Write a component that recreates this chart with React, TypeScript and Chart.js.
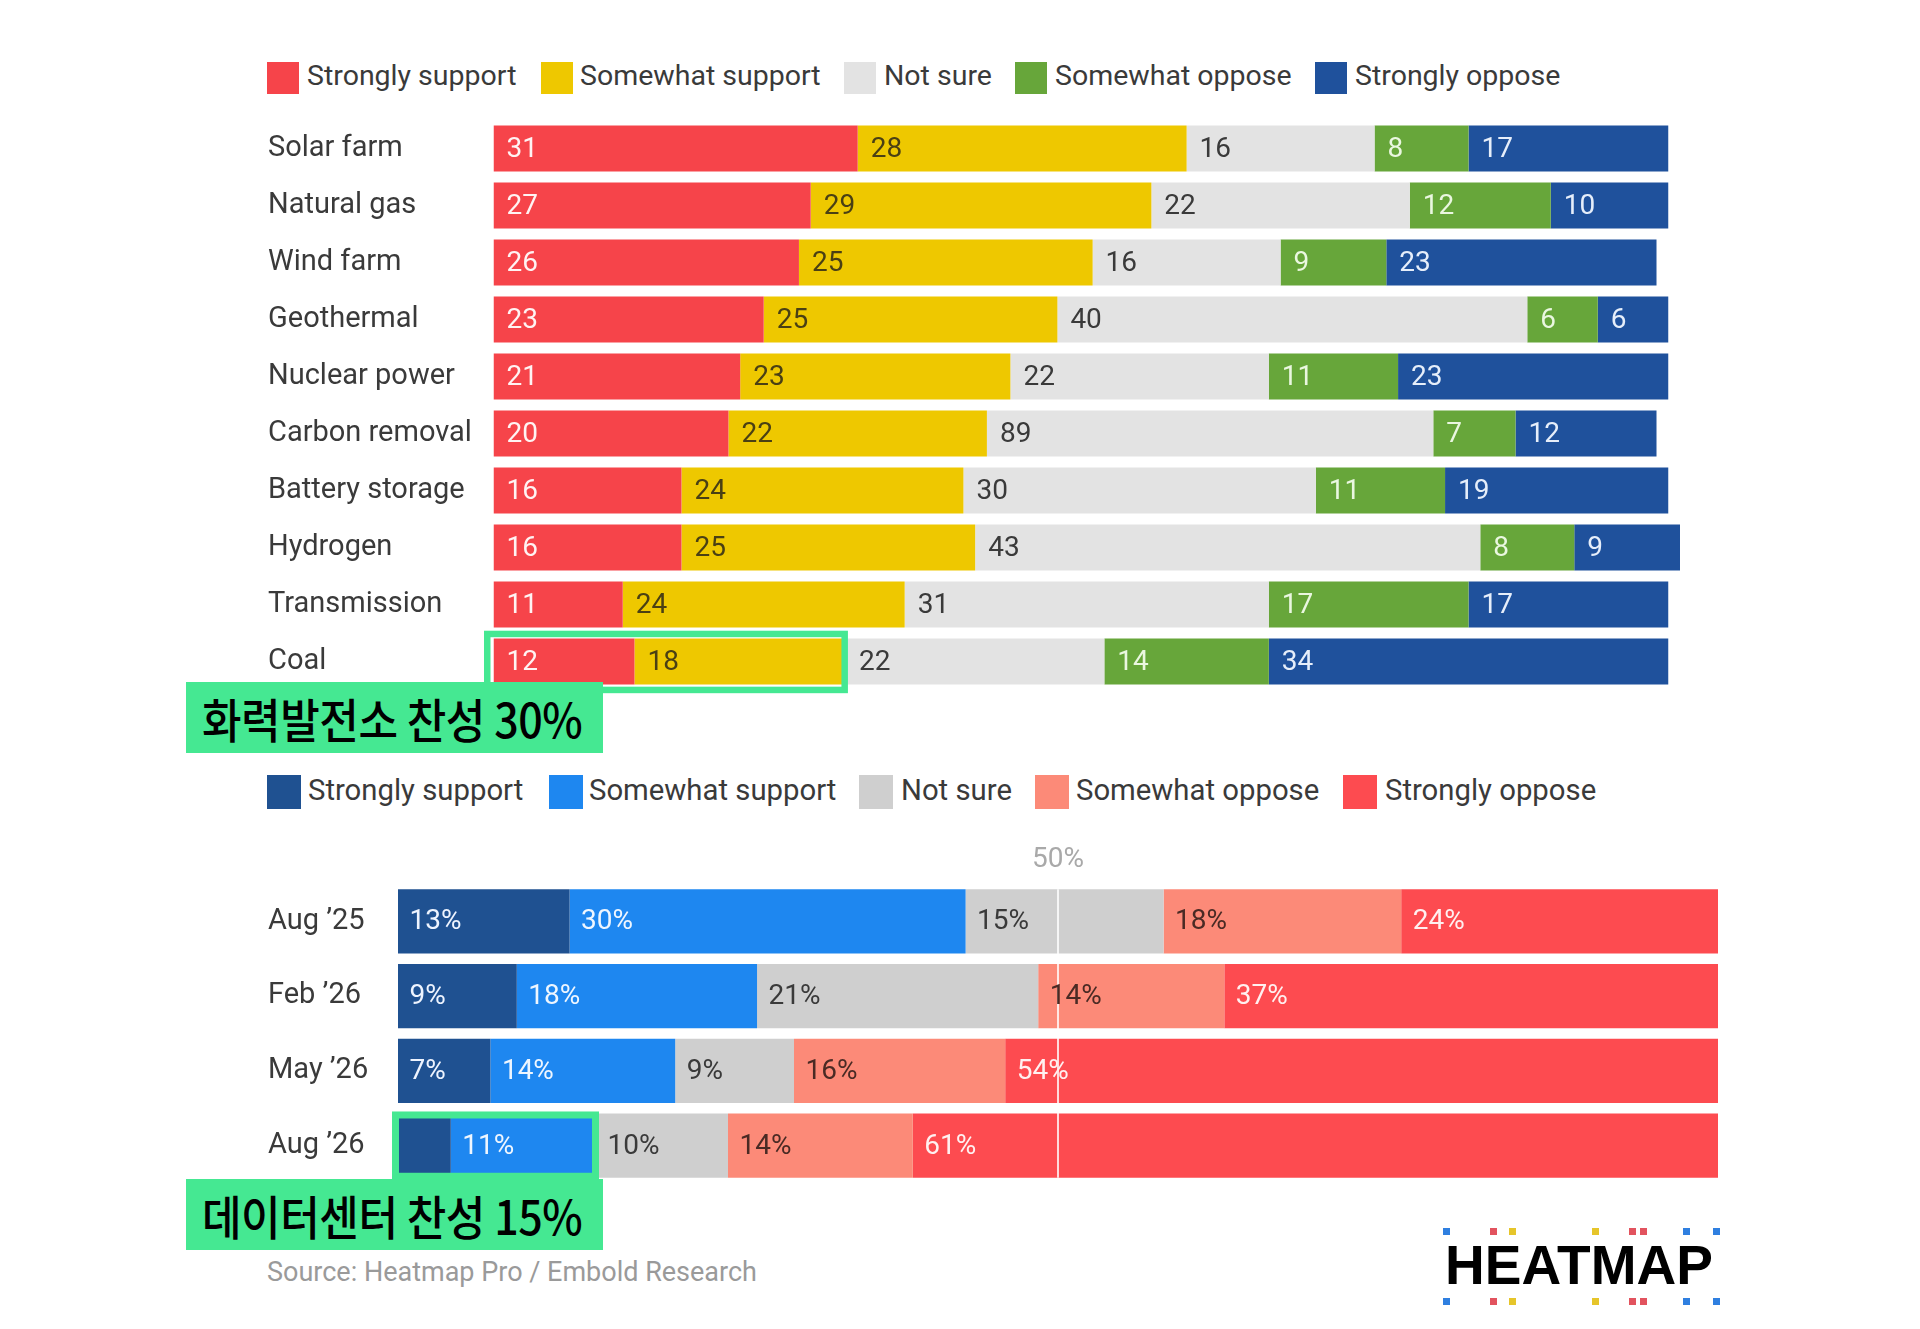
import React, { useEffect, useRef } from "react";
import { Chart, registerables } from "chart.js";

Chart.register(...registerables);

const FONT = "Roboto, 'Noto Sans', 'DejaVu Sans', sans-serif";
const KFONT = "'Noto Sans CJK KR', 'Noto Sans', sans-serif";

// ---------- Chart 1: energy projects ----------
const energyCategories = [
  "Solar farm",
  "Natural gas",
  "Wind farm",
  "Geothermal",
  "Nuclear power",
  "Carbon removal",
  "Battery storage",
  "Hydrogen",
  "Transmission",
  "Coal",
];
const energyStronglySupport = [31, 27, 26, 23, 21, 20, 16, 16, 11, 12];
const energySomewhatSupport = [28, 29, 25, 25, 23, 22, 24, 25, 24, 18];
const energyNotSure = [16, 22, 16, 40, 22, 38, 30, 43, 31, 22];
const energySomewhatOppose = [8, 12, 9, 6, 11, 7, 11, 8, 17, 14];
const energyStronglyOppose = [17, 10, 23, 6, 23, 12, 19, 9, 17, 34];
const energySeriesNames = [
  "Strongly support",
  "Somewhat support",
  "Not sure",
  "Somewhat oppose",
  "Strongly oppose",
];
// text printed on the reference that differs from the drawn value
const energyPrintedOverrides: Record<string, string> = {
  "Not sure|Carbon removal": "89",
};
const energyColors = ["#f6444a", "#eec800", "#e3e3e3", "#67a63a", "#1f519c"];
const energyLabelColors = ["#fff3f3", "#4a4014", "#3a3a3a", "#eaf7e0", "#e6eefa"];

// ---------- Chart 2: data centers ----------
const dcCategories = ["Aug \u201925", "Feb \u201926", "May \u201926", "Aug \u201926"];
const dcStronglySupport = [13, 9, 7, 4];
const dcSomewhatSupport = [30, 18.2, 14, 11];
const dcNotSure = [15, 21.3, 9, 10];
const dcSomewhatOppose = [18, 14.1, 16, 14];
const dcStronglyOppose = [24, 37.4, 54, 61];
const dcSeriesNames = [
  "Strongly support",
  "Somewhat support",
  "Not sure",
  "Somewhat oppose",
  "Strongly oppose",
];
const dcPrintedOverrides: Record<string, string> = {
  "Strongly support|Aug \u201926": "",
};
const dcColors = ["#1f5191", "#1e87f0", "#cfcfcf", "#fc8a78", "#fd4b50"];
const dcLabelColors = ["#eef4ff", "#eef6ff", "#3a3a3a", "#4a2a24", "#fff0f0"];
const dcMidline = 50;

const energyHighlight = { category: "Coal", from: 0, to: 30, text: "화력발전소 찬성 30%" };
const dcHighlight = { category: "Aug \u201926", from: 0, to: 15, text: "데이터센터 찬성 15%" };

const HIGHLIGHT_GREEN = "#45e892";

function makeLabelPlugin(
  id: string,
  colors: string[],
  overrides: Record<string, string>,
  fmt: (v: number) => string,
  fontSize: number,
  offset: number
) {
  return {
    id,
    afterDatasetsDraw(chart: any) {
      const ctx = chart.ctx;
      chart.data.datasets.forEach((ds: any, di: number) => {
        const meta = chart.getDatasetMeta(di);
        meta.data.forEach((bar: any, i: number) => {
          const key = ds.label + "|" + chart.data.labels[i];
          const text = key in overrides ? overrides[key] : fmt(ds.data[i]);
          if (!text) return;
          const p = bar.getProps(["x", "y", "base"], true);
          const left = Math.min(p.x, p.base);
          ctx.save();
          ctx.font = `400 ${fontSize}px ${FONT}`;
          ctx.fillStyle = colors[di];
          ctx.textAlign = "left";
          ctx.textBaseline = "middle";
          ctx.fillText(text, left + offset, p.y + 1);
          ctx.restore();
        });
      });
    },
  };
}

function makeHighlightPlugin(
  id: string,
  cfg: { category: string; from: number; to: number },
  pad: { l: number; r: number; t: number; b: number },
  lineWidth: number
) {
  return {
    id,
    afterDatasetsDraw(chart: any) {
      const idx = chart.data.labels.indexOf(cfg.category);
      if (idx < 0) return;
      const bar = chart.getDatasetMeta(0).data[idx];
      const p = bar.getProps(["y", "height"], true);
      const xs = chart.scales.x;
      const x0 = xs.getPixelForValue(cfg.from) - pad.l;
      const x1 = xs.getPixelForValue(cfg.to) + pad.r;
      const y0 = p.y - p.height / 2 - pad.t;
      const y1 = p.y + p.height / 2 + pad.b;
      const ctx = chart.ctx;
      ctx.save();
      ctx.strokeStyle = HIGHLIGHT_GREEN;
      ctx.lineWidth = lineWidth;
      ctx.strokeRect(
        x0 + lineWidth / 2,
        y0 + lineWidth / 2,
        x1 - x0 - lineWidth,
        y1 - y0 - lineWidth
      );
      ctx.restore();
    },
  };
}

const midlinePlugin = {
  id: "midline",
  afterDatasetsDraw(chart: any) {
    const ctx = chart.ctx;
    const xs = chart.scales.x;
    const x = xs.getPixelForValue(dcMidline);
    const first = chart.getDatasetMeta(0).data[0].getProps(["y", "height"], true);
    const n = chart.data.labels.length;
    const last = chart.getDatasetMeta(0).data[n - 1].getProps(["y", "height"], true);
    ctx.save();
    ctx.strokeStyle = "rgba(255,255,255,0.8)";
    ctx.lineWidth = 2;
    ctx.beginPath();
    ctx.moveTo(x, first.y - first.height / 2);
    ctx.lineTo(x, last.y + last.height / 2);
    ctx.stroke();
    ctx.font = `400 28px ${FONT}`;
    ctx.fillStyle = "#a9a9a9";
    ctx.textAlign = "center";
    ctx.textBaseline = "middle";
    ctx.fillText(`${dcMidline}%`, x, chart.chartArea.top - 24);
    ctx.restore();
  },
};

function yAxis(width: number) {
  return {
    stacked: true,
    grid: { display: false },
    border: { display: false },
    ticks: {
      crossAlign: "far",
      padding: 0,
      autoSkip: false,
      color: "#3a3a3a",
      font: { family: FONT, size: 29 },
    },
    afterFit: (s: any) => {
      s.width = width;
      s.paddingTop = 0;
      s.paddingBottom = 0;
    },
  };
}

function EnergyChart() {
  const ref = useRef<HTMLCanvasElement | null>(null);
  useEffect(() => {
    if (!ref.current) return;
    const series = [
      energyStronglySupport,
      energySomewhatSupport,
      energyNotSure,
      energySomewhatOppose,
      energyStronglyOppose,
    ];
    const chart = new Chart(ref.current, {
      type: "bar",
      data: {
        labels: energyCategories,
        datasets: series.map((d, i) => ({
          label: energySeriesNames[i],
          data: d,
          backgroundColor: energyColors[i],
          borderWidth: 0,
          barPercentage: 0.81,
          categoryPercentage: 1,
        })),
      },
      options: {
        indexAxis: "y",
        responsive: false,
        animation: false,
        events: [],
        layout: { padding: { top: 0, bottom: 10, left: 0, right: 0 } },
        plugins: { legend: { display: false }, tooltip: { enabled: false } },
        scales: {
          x: { stacked: true, min: 0, max: 101, display: false },
          y: yAxis(225.5),
        },
      } as any,
      plugins: [
        makeLabelPlugin("energyLabels", energyLabelColors, energyPrintedOverrides, (v) => String(Math.round(v)), 28, 13),
        makeHighlightPlugin("energyHighlight", energyHighlight, { l: 9.5, r: 2, t: 7.7, b: 8.6 }, 6.5),
      ],
    });
    return () => chart.destroy();
  }, []);
  return (
    <canvas
      ref={ref}
      width={1412}
      height={580}
      style={{ position: "absolute", left: 268, top: 120, width: 1412, height: 580 }}
    />
  );
}

function DataCenterChart() {
  const ref = useRef<HTMLCanvasElement | null>(null);
  useEffect(() => {
    if (!ref.current) return;
    const series = [
      dcStronglySupport,
      dcSomewhatSupport,
      dcNotSure,
      dcSomewhatOppose,
      dcStronglyOppose,
    ];
    const chart = new Chart(ref.current, {
      type: "bar",
      data: {
        labels: dcCategories,
        datasets: series.map((d, i) => ({
          label: dcSeriesNames[i],
          data: d,
          backgroundColor: dcColors[i],
          borderWidth: 0,
          barPercentage: 0.86,
          categoryPercentage: 1,
        })),
      },
      options: {
        indexAxis: "y",
        responsive: false,
        animation: false,
        events: [],
        layout: { padding: { top: 44, bottom: 8, left: 0, right: 0 } },
        plugins: { legend: { display: false }, tooltip: { enabled: false } },
        scales: {
          x: { stacked: true, min: 0, max: 100, display: false },
          y: yAxis(130),
        },
      } as any,
      plugins: [
        midlinePlugin,
        makeLabelPlugin("dcLabels", dcLabelColors, dcPrintedOverrides, (v) => `${Math.round(v)}%`, 28, 11.5),
        makeHighlightPlugin("dcHighlight", dcHighlight, { l: 6, r: 3, t: 2, b: 2 }, 7),
      ],
    });
    return () => chart.destroy();
  }, []);
  return (
    <canvas
      ref={ref}
      width={1450}
      height={351}
      style={{ position: "absolute", left: 268, top: 840, width: 1450, height: 351 }}
    />
  );
}

function Legend({
  names,
  colors,
  squareLefts,
  textLefts,
  top,
  size,
  fontSize,
}: {
  names: string[];
  colors: string[];
  squareLefts: number[];
  textLefts: number[];
  top: number;
  size: number;
  fontSize: number;
}) {
  const center = top + size / 2 - 2;
  return (
    <>
      {names.map((n, i) => (
        <React.Fragment key={n}>
          <div
            style={{
              position: "absolute",
              left: squareLefts[i],
              top,
              width: size,
              height: size,
              background: colors[i],
            }}
          />
          <div
            style={{
              position: "absolute",
              left: textLefts[i],
              top: center - 20,
              height: 40,
              lineHeight: "40px",
              fontSize,
              color: "#3a3a3a",
              whiteSpace: "nowrap",
              fontFamily: FONT,
            }}
          >
            {n}
          </div>
        </React.Fragment>
      ))}
    </>
  );
}

function Callout({ text, top }: { text: string; top: number }) {
  return (
    <div
      style={{
        position: "absolute",
        left: 186,
        top,
        width: 417,
        height: 71,
        background: HIGHLIGHT_GREEN,
        overflow: "hidden",
      }}
    >
      <div
        style={{
          position: "absolute",
          left: 16,
          top: 0,
          height: 71,
          lineHeight: "71px",
          fontFamily: KFONT,
          fontWeight: 500,
          fontSize: 47,
          color: "#000",
          whiteSpace: "nowrap",
          transform: "scaleX(0.915)",
          transformOrigin: "left center",
          letterSpacing: -0.5,
        }}
      >
        {text}
      </div>
    </div>
  );
}

function Logo() {
  const dots: [number, string][] = [
    [1443, "#2f7fe0"],
    [1490, "#e2535e"],
    [1509, "#e6c52a"],
    [1592, "#e6c52a"],
    [1629, "#e2535e"],
    [1640, "#e2535e"],
    [1683, "#2f7fe0"],
    [1713, "#2f7fe0"],
  ];
  return (
    <>
      {[1228, 1298].map((y) =>
        dots.map(([x, c], i) => (
          <div
            key={`${y}-${i}`}
            style={{ position: "absolute", left: x, top: y, width: 6.5, height: 6.5, background: c }}
          />
        ))
      )}
      <div
        style={{
          position: "absolute",
          left: 1445,
          top: 1238,
          height: 55,
          lineHeight: "55px",
          fontFamily: "'Liberation Sans', Arial, sans-serif",
          fontWeight: 700,
          fontSize: 55,
          color: "#000",
          whiteSpace: "nowrap",
        }}
      >
        HEATMAP
      </div>
    </>
  );
}

export default function App() {
  return (
    <div
      style={{
        position: "absolute",
        left: 0,
        top: 0,
        width: 1920,
        height: 1329,
        background: "#ffffff",
        overflow: "hidden",
        fontFamily: FONT,
      }}
    >
      <Legend
        names={energySeriesNames}
        colors={energyColors}
        squareLefts={[267, 541, 844, 1015, 1315]}
        textLefts={[307, 580, 884, 1055, 1355]}
        top={62}
        size={32}
        fontSize={28.5}
      />
      <EnergyChart />
      <Callout text={energyHighlight.text} top={682} />
      <Legend
        names={dcSeriesNames}
        colors={dcColors}
        squareLefts={[267, 549, 859, 1035, 1343]}
        textLefts={[308, 589, 901, 1076, 1385]}
        top={775}
        size={34}
        fontSize={29.3}
      />
      <DataCenterChart />
      <Callout text={dcHighlight.text} top={1179} />
      <div
        style={{
          position: "absolute",
          left: 267,
          top: 1252,
          height: 40,
          lineHeight: "40px",
          fontSize: 27,
          color: "#9a9a9a",
          whiteSpace: "nowrap",
          fontFamily: FONT,
        }}
      >
        Source: Heatmap Pro / Embold Research
      </div>
      <Logo />
    </div>
  );
}
